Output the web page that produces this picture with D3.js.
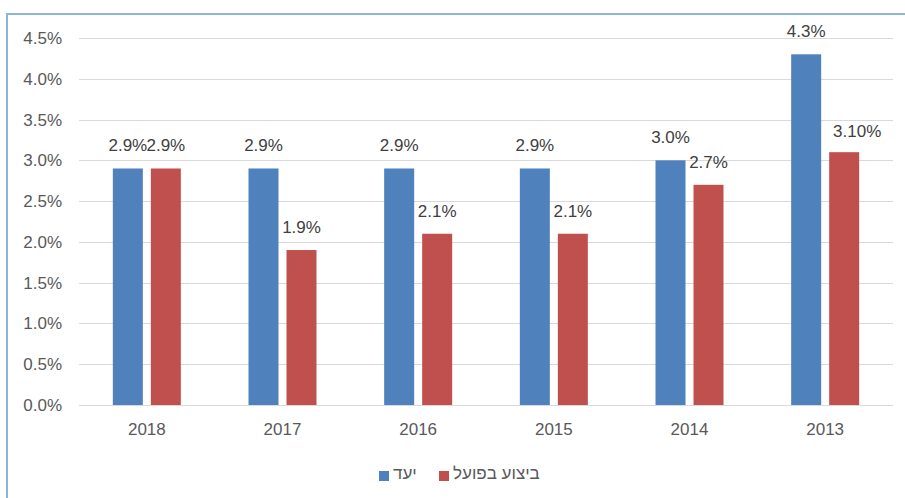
<!DOCTYPE html>
<html><head><meta charset="utf-8">
<script src="https://cdn.jsdelivr.net/npm/d3@7"></script>
<style>body{margin:0;background:#fff}svg{display:block;font-family:"Liberation Sans",Arial,sans-serif}</style>
</head><body>
<svg id="c" width="905" height="498"></svg>
<script>
const categories = ["2018","2017","2016","2015","2014","2013"];
const targetValues = [2.9, 2.9, 2.9, 2.9, 3.0, 4.3];
const actualValues = [2.9, 1.9, 2.1, 2.1, 2.7, 3.1];
const targetLabels = ["2.9%","2.9%","2.9%","2.9%","3.0%","4.3%"];
const actualLabels = ["2.9%","1.9%","2.1%","2.1%","2.7%","3.10%"];
const yTicks = [0,0.5,1.0,1.5,2.0,2.5,3.0,3.5,4.0,4.5];
const seriesNames = ["יעד","ביצוע בפועל"];
const colors = ["#4f81bd","#c0504d"];
const FS = "17px";
const FONT = "Liberation Sans, Arial, sans-serif";

const svg = d3.select("#c");
// frame
svg.append("line").attr("x1",7).attr("x2",905).attr("y1",14).attr("y2",14).attr("stroke","#8fb4d9").attr("stroke-width",2);
svg.append("line").attr("x1",7).attr("x2",7).attr("y1",13).attr("y2",498).attr("stroke","#8fb4d9").attr("stroke-width",2);

const x = d3.scaleBand().domain(categories).range([79,893]);
const y = d3.scaleLinear().domain([0,4.5]).range([405,38]);

const grid = svg.append("g");
grid.selectAll("line").data(yTicks).join("line")
  .attr("x1",79).attr("x2",893).attr("y1",d=>Math.round(y(d))+0.5).attr("y2",d=>Math.round(y(d))+0.5)
  .attr("stroke","#d9d9d9").attr("stroke-width",1);

const yAxis = d3.axisLeft(y).tickValues(yTicks).tickSize(0).tickPadding(17).tickFormat(d=>d.toFixed(1)+"%");
const ya = svg.append("g").attr("transform","translate(79,0)").call(yAxis);
ya.select(".domain").remove();
ya.selectAll("text").attr("fill","#595959").style("font-size",FS).style("font-family",FONT);

const xAxis = d3.axisBottom(x).tickSize(0).tickPadding(18);
const xa = svg.append("g").attr("transform","translate(0,405)").call(xAxis);
xa.select(".domain").remove();
xa.selectAll("text").attr("fill","#595959").style("font-size",FS).style("font-family",FONT);

const bw = 30, gap = 8;
const series = [targetValues, actualValues];
const labels = [targetLabels, actualLabels];
series.forEach((vals,si)=>{
  const off = si===0 ? -gap/2-bw : gap/2;
  const g = svg.append("g");
  g.selectAll("rect").data(categories).join("rect")
    .attr("x",(c)=>x(c)+x.bandwidth()/2+off)
    .attr("y",(c,i)=>y(vals[i]))
    .attr("width",bw)
    .attr("height",(c,i)=>y(0)-y(vals[i]))
    .attr("fill",colors[si]);
  // the last label of the actual series was moved right in the original chart
  const nudge = (i)=> (si===1 && i===categories.length-1) ? 13 : 0;
  const dyN = (i)=> (si===1 && i===categories.length-1) ? 2 : 0;
  g.selectAll("text").data(categories).join("text")
    .attr("x",(c,i)=>x(c)+x.bandwidth()/2+off+bw/2+nudge(i))
    .attr("y",(c,i)=>y(vals[i])-17+dyN(i))
    .attr("text-anchor","middle")
    .attr("fill","#404040").style("font-size",FS)
    .text((c,i)=>labels[si][i]);
});

// legend
const leg = svg.append("g");
const legItems = [{x:379,name:seriesNames[0],c:colors[0]},{x:439,name:seriesNames[1],c:colors[1]}];
legItems.forEach(it=>{
  leg.append("rect").attr("x",it.x).attr("y",471).attr("width",10).attr("height",10).attr("fill",it.c);
  leg.append("text").attr("x",it.x+14).attr("y",479).attr("fill","#595959").style("font-size",FS).text(it.name);
});
</script>
</body></html>
